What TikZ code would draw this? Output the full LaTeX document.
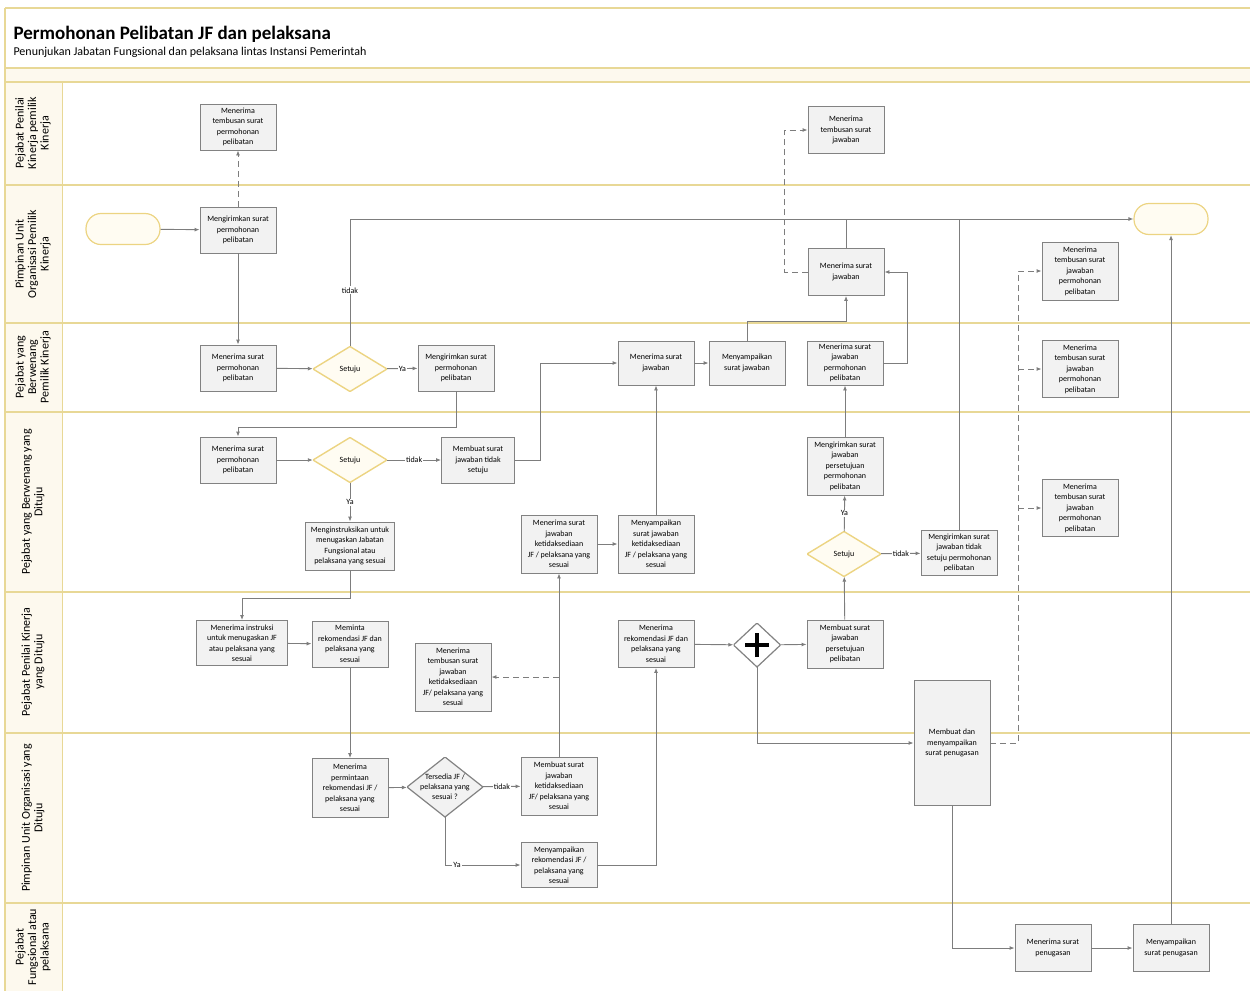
\documentclass[tikz,border=0pt]{standalone}
\usepackage{fontspec}
\setmainfont{Carlito}
\usetikzlibrary{positioning, calc, arrows.meta}

\definecolor{laneline}{RGB}{232,216,150}
\definecolor{lanefill}{RGB}{253,249,238}
\definecolor{boxfill}{RGB}{242,242,242}
\definecolor{boxline}{RGB}{130,130,130}
\definecolor{gatefill}{RGB}{255,252,242}
\definecolor{gateline}{RGB}{236,212,130}
\definecolor{flow}{RGB}{125,125,125}

\tikzset{
  task/.style={draw=boxline, fill=boxfill, line width=0.9pt, minimum width=76pt,
    minimum height=46pt, align=center, inner sep=2pt,
    font=\fontsize{8}{10.5}\selectfont},
  gate/.style={minimum width=74pt, minimum height=45pt, inner sep=0pt, align=center,
    font=\fontsize{8}{10}\selectfont,
    path picture={\draw[draw=gateline, fill=gatefill, line width=1.4pt]
      (path picture bounding box.north) -- (path picture bounding box.east) --
      (path picture bounding box.south) -- (path picture bounding box.west) -- cycle;}},
  plusgate/.style={minimum width=47pt, minimum height=44pt, inner sep=0pt,
    path picture={\draw[draw=boxline, fill=white, line width=1.2pt]
      (path picture bounding box.north) -- (path picture bounding box.east) --
      (path picture bounding box.south) -- (path picture bounding box.west) -- cycle;
      \draw[line width=3.5pt] ([yshift=-12pt]path picture bounding box.center) -- ([yshift=12pt]path picture bounding box.center);
      \draw[line width=3.5pt] ([xshift=-12pt]path picture bounding box.center) -- ([xshift=12pt]path picture bounding box.center);}},
  terminal/.style={draw=gateline, fill=gatefill, line width=1.2pt, rounded corners=15pt,
    minimum width=74pt, minimum height=31pt},
  flowline/.style={draw=flow, line width=0.9pt, -{Latex[length=5pt,width=4pt]}},
  msgline/.style={flowline, dash pattern=on 6pt off 4pt},
  lbl/.style={fill=white, inner sep=1pt, font=\fontsize{8}{9}\selectfont},
  lanetitle/.style={rotate=90, align=center, font=\fontsize{12}{12.5}\selectfont},
}

\begin{document}
\begin{tikzpicture}[x=1pt, y=-1pt]
\useasboundingbox (0,0) rectangle (1250,991);

% frame and swimlanes
\fill[lanefill] (5,8) rectangle (1250,82);
\fill[white] (6,9) rectangle (1250,68);
\fill[lanefill] (5,82) rectangle (62,991);
\foreach \yy in {68,82,185,323,412,592,733,903}
  \draw[laneline, line width=1.3pt] (5,\yy) -- (1250,\yy);
\draw[laneline, line width=1.3pt] (5,8) -- (1250,8);
\draw[laneline, line width=1.3pt] (5,8) -- (5,991);
\draw[laneline, line width=1pt] (62,82) -- (62,991);

\node[anchor=base west, font=\fontsize{19}{21}\bfseries\selectfont] (title) at (10,39) {Permohonan Pelibatan JF dan pelaksana};
\node[anchor=base west, font=\fontsize{12}{13}\selectfont] (subtitle) at (10,55) {Penunjukan Jabatan Fungsional dan pelaksana lintas Instansi Pemerintah};

\node[lanetitle] (lane1) at (33,133) {Pejabat Penilai\\Kinerja pemilik\\Kinerja};
\node[lanetitle] (lane2) at (33,254) {Pimpinan Unit\\Organisasi Pemilik\\Kinerja};
\node[lanetitle] (lane3) at (33,367) {Pejabat yang\\Berwenang\\Pemilik Kinerja};
\node[lanetitle] (lane4) at (33,502) {Pejabat yang Berwenang yang\\Dituju};
\node[lanetitle] (lane5) at (33,662) {Pejabat Penilai Kinerja\\yang Dituju};
\node[lanetitle] (lane6) at (33,818) {Pimpinan Unit Organisasi yang\\Dituju};
\node[lanetitle] (lane7) at (33,947) {Pejabat\\Fungsional atau\\pelaksana};

% activities
\node[terminal] (start) at (123,229) {};
\node[terminal] (finish) at (1171,219) {};

\node[task] (tbsPrm) at (238,127) {Menerima\\tembusan surat\\permohonan\\pelibatan};
\node[task] (kirimPrm) at (238,230) {Mengirimkan surat\\permohonan\\pelibatan};
\node[task] (trmPrm1) at (238,368) {Menerima surat\\permohonan\\pelibatan};
\node[gate] (setuju1) at (350,369) {Setuju};
\node[task] (kirimPrm2) at (456,368) {Mengirimkan surat\\permohonan\\pelibatan};
\node[task] (trmPrm2) at (238,460) {Menerima surat\\permohonan\\pelibatan};
\node[gate] (setuju2) at (350,460) {Setuju};
\node[task, minimum width=73pt] (tolak1) at (478,460) {Membuat surat\\jawaban tidak\\setuju};
\node[task, minimum width=89pt, minimum height=48pt] (instruksi) at (350,546) {Menginstruksikan untuk\\menugaskan Jabatan\\Fungsional atau\\pelaksana yang sesuai};
\node[task, minimum width=91pt, minimum height=45pt] (trmInstr) at (242,643) {Menerima instruksi\\untuk menugaskan JF\\atau pelaksana yang\\sesuai};
\node[task] (mintaRek) at (350,644) {Meminta\\rekomendasi JF dan\\pelaksana yang\\sesuai};
\node[task, minimum height=68pt] (tbsTdk) at (453,677) {Menerima\\tembusan surat\\jawaban\\ketidaksediaan\\JF/ pelaksana yang\\sesuai};
\node[task, minimum height=59pt] (trmMinta) at (350,788) {Menerima\\permintaan\\rekomendasi JF /\\pelaksana yang\\sesuai};
\node[gate, minimum width=76pt, minimum height=60pt,
  path picture={\draw[draw=boxline, fill=boxfill, line width=1.2pt]
      (path picture bounding box.north) -- (path picture bounding box.east) --
      (path picture bounding box.south) -- (path picture bounding box.west) -- cycle;}]
  (tersedia) at (445,787) {Tersedia JF /\\pelaksana yang\\sesuai ?};
\node[task, minimum height=58pt] (buatTdk) at (559,786) {Membuat surat\\jawaban\\ketidaksediaan\\JF/ pelaksana yang\\sesuai};
\node[task, minimum height=45pt] (sampaiRek) at (559,865) {Menyampaikan\\rekomendasi JF /\\pelaksana yang\\sesuai};
\node[task, minimum height=58pt] (trmTdk) at (559,544) {Menerima surat\\jawaban\\ketidaksediaan\\JF / pelaksana yang\\sesuai};
\node[task, minimum height=58pt] (sampaiTdk) at (656,544) {Menyampaikan\\surat jawaban\\ketidaksediaan\\JF / pelaksana yang\\sesuai};
\node[task, minimum height=44pt] (trmJwb) at (656,363) {Menerima surat\\jawaban};
\node[task, minimum height=44pt] (sampaiJwb) at (747,363) {Menyampaikan\\surat jawaban};
\node[task, minimum height=47pt] (trmJwb2) at (846,272) {Menerima surat\\jawaban};
\node[task, minimum height=47pt] (tbsJwb) at (846,130) {Menerima\\tembusan surat\\jawaban};
\node[task, minimum height=44pt] (trmSetuju) at (845,363) {Menerima surat\\jawaban\\permohonan\\pelibatan};
\node[task, minimum height=58pt] (kirimSetuju) at (845,466) {Mengirimkan surat\\jawaban\\persetujuan\\permohonan\\pelibatan};
\node[gate] (setuju3) at (844,554) {Setuju};
\node[task, minimum height=45pt] (kirimTolak) at (959,553) {Mengirimkan surat\\jawaban tidak\\setuju permohonan\\pelibatan};
\node[task, minimum height=48pt] (buatSetuju) at (845,644) {Membuat surat\\jawaban\\persetujuan\\pelibatan};
\node[task, minimum height=47pt] (trmRek) at (656,644) {Menerima\\rekomendasi JF dan\\pelaksana yang\\sesuai};
\node[plusgate] (plus) at (757,645) {};
\node[task, minimum height=125pt] (tugas) at (952,743) {Membuat dan\\menyampaikan\\surat penugasan};
\node[task, minimum height=58pt] (tbs1) at (1080,271) {Menerima\\tembusan surat\\jawaban\\permohonan\\pelibatan};
\node[task, minimum height=57pt] (tbs2) at (1080,369) {Menerima\\tembusan surat\\jawaban\\permohonan\\pelibatan};
\node[task, minimum height=57pt] (tbs3) at (1080,508) {Menerima\\tembusan surat\\jawaban\\permohonan\\pelibatan};
\node[task, minimum height=47pt] (trmTugas) at (1053,948) {Menerima surat\\penugasan};
\node[task, minimum height=47pt] (sampaiTugas) at (1171,948) {Menyampaikan\\surat penugasan};

% sequence flows
\draw[flowline] (start) -- (kirimPrm);
\draw[msgline] (kirimPrm) -- (tbsPrm);
\draw[flowline] (kirimPrm) -- (trmPrm1);
\draw[flowline] (trmPrm1) -- (setuju1);
\draw[flowline] (setuju1) -- node[lbl] {Ya} (kirimPrm2);
\draw[flowline] (setuju1.north) |- node[lbl, pos=0.22] {tidak} (finish.west);
\draw[flowline] (kirimPrm2.south) -- ++(0,36) -| (trmPrm2.north);
\draw[flowline] (trmPrm2) -- (setuju2);
\draw[flowline] (setuju2) -- node[lbl] {tidak} (tolak1);
\draw[flowline] (setuju2) -- node[lbl] {Ya} (instruksi);
\draw[flowline] (instruksi.south) -- ++(0,28) -| (trmInstr.north);
\draw[flowline] (trmInstr) -- (mintaRek);
\draw[flowline] (mintaRek) -- (trmMinta);
\draw[flowline] (trmMinta) -- (tersedia);
\draw[flowline] (tersedia) -- node[lbl] {tidak} (buatTdk);
\draw[flowline] (tersedia.south) |- node[lbl, pos=0.58] {Ya} (sampaiRek.west);
\draw[flowline] (buatTdk) -- (trmTdk);
\draw[msgline] (buatTdk.north |- tbsTdk.east) -- (tbsTdk.east);
\draw[flowline] (trmTdk) -- (sampaiTdk);
\draw[flowline] (sampaiTdk) -- (trmJwb);
\draw[flowline] (tolak1.east) -- ++(25,0) |- (trmJwb.west);
\draw[flowline] (trmJwb) -- (sampaiJwb);
\draw[flowline] (sampaiJwb.north) -- ++(0,-19) -| (trmJwb2.south);
\draw[draw=flow, line width=0.9pt] (trmJwb2.north) -- (trmJwb2.north |- finish.west);
\draw[msgline] (trmJwb2.west) -- ++(-23,0) |- (tbsJwb.west);
\draw[flowline] (kirimSetuju) -- (trmSetuju);
\draw[flowline] (trmSetuju.east) -- ++(24,0) |- (trmJwb2.east);
\draw[flowline] (setuju3) -- node[lbl] {Ya} (kirimSetuju);
\draw[flowline] (setuju3) -- node[lbl] {tidak} (kirimTolak);
\draw[draw=flow, line width=0.9pt] (kirimTolak.north) -- (kirimTolak.north |- finish.west);
\draw[flowline] (buatSetuju) -- (setuju3);
\draw[flowline] (trmRek) -- (plus);
\draw[flowline] (plus) -- (buatSetuju);
\draw[flowline] (sampaiRek.east) -| (trmRek.south);
\draw[flowline] (plus.south) |- (tugas.west);
\draw[msgline] (tugas.east) -- ++(28,0) coordinate (dv) |- (tbs1.west);
\draw[msgline] (dv |- tbs2.west) -- (tbs2.west);
\draw[msgline] (dv |- tbs3.west) -- (tbs3.west);
\draw[flowline] (tugas.south) |- (trmTugas.west);
\draw[flowline] (trmTugas) -- (sampaiTugas);
\draw[flowline] (sampaiTugas) -- (finish);
\end{tikzpicture}
\end{document}
